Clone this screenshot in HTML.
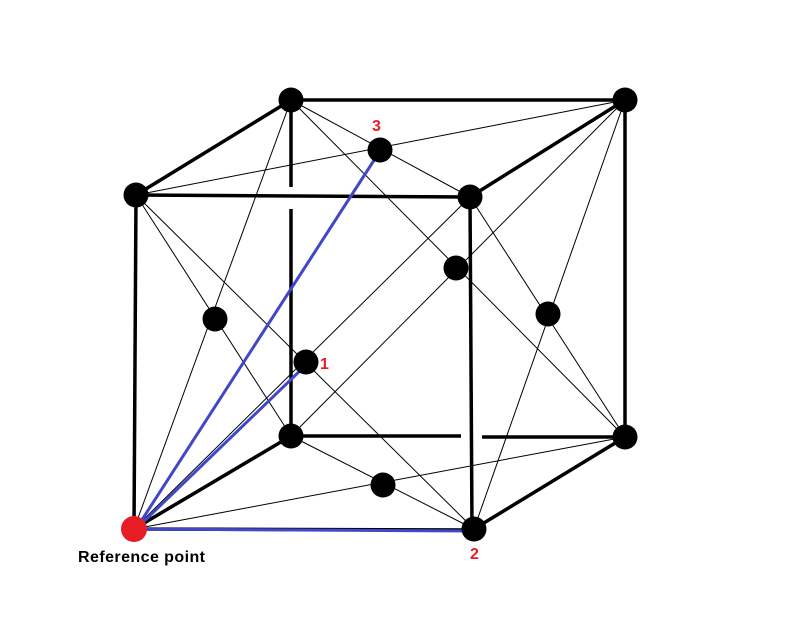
<!DOCTYPE html>
<html><head><style>body{margin:0;background:#fff}svg{display:block}</style></head><body>
<svg width="790" height="643" viewBox="0 0 790 643" xmlns="http://www.w3.org/2000/svg">
<g stroke="#000" stroke-width="1" fill="none">
<line x1="136" y1="195" x2="625" y2="100"/><line x1="291" y1="100" x2="470" y2="197"/>
<line x1="136" y1="195" x2="474" y2="529"/><line x1="470" y1="197" x2="134" y2="529"/>
<line x1="136" y1="195" x2="291" y2="436"/><line x1="291" y1="100" x2="134" y2="529"/>
<line x1="470" y1="197" x2="625" y2="437"/><line x1="625" y1="100" x2="474" y2="529"/>
<line x1="134" y1="529" x2="625" y2="437"/><line x1="291" y1="436" x2="474" y2="529"/>
<line x1="291" y1="100" x2="625" y2="437"/><line x1="625" y1="100" x2="291" y2="436"/>
</g>
<g stroke="#000" stroke-width="3.5" fill="none">
<line x1="291" y1="100" x2="625" y2="100"/>
<line x1="625" y1="100" x2="625" y2="437"/>
<line x1="291" y1="100" x2="291" y2="187"/><line x1="291" y1="209" x2="291" y2="436"/>
<line x1="291" y1="436" x2="461" y2="436"/><line x1="482" y1="437" x2="625" y2="437"/>
<line x1="136" y1="195" x2="470" y2="197"/>
<line x1="136" y1="195" x2="134" y2="529"/>
<line x1="470" y1="197" x2="472" y2="529"/>
<line x1="134" y1="529" x2="474" y2="530"/>
<line x1="136" y1="195" x2="291" y2="100"/><line x1="470" y1="197" x2="625" y2="100"/>
<line x1="134" y1="529" x2="291" y2="436"/><line x1="474" y1="529" x2="625" y2="437"/>
</g>
<g stroke="#4048c8" stroke-width="3" fill="none">
<line x1="136" y1="529" x2="380" y2="151"/>
<line x1="136" y1="529" x2="306" y2="365"/>
<line x1="136" y1="529" x2="473" y2="531"/>
</g>
<g fill="#000">
<circle cx="291" cy="100" r="12.5"/><circle cx="625" cy="100" r="12.5"/>
<circle cx="136" cy="195" r="12.5"/><circle cx="470" cy="197" r="12.5"/>
<circle cx="291" cy="436" r="12.5"/><circle cx="625" cy="437" r="12.5"/>
<circle cx="474" cy="529" r="12.5"/>
<circle cx="380" cy="150" r="12.5"/><circle cx="306" cy="362" r="12.5"/>
<circle cx="456" cy="268" r="12.5"/><circle cx="215" cy="319" r="12.5"/>
<circle cx="548" cy="314" r="12.5"/><circle cx="383" cy="485" r="12.5"/>
</g>
<circle cx="134" cy="529" r="13" fill="#e81c24"/>
<g fill="#e81c24" font-family="Liberation Sans, sans-serif" font-weight="bold" font-size="16">
<text x="372" y="131">3</text><text x="320" y="369">1</text><text x="470" y="559">2</text>
</g>
<text x="78" y="562" font-family="Liberation Sans, sans-serif" font-weight="bold" font-size="16" fill="#000" textLength="127">Reference point</text>
</svg>
</body></html>
